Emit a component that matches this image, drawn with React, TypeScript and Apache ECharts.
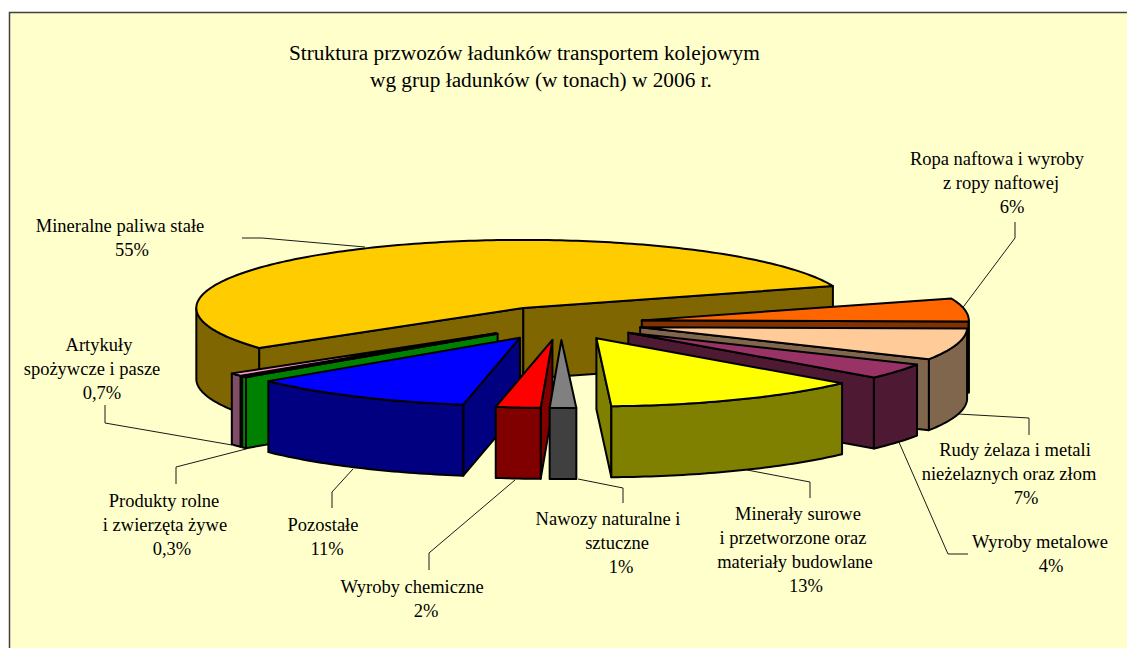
import React, { useEffect, useRef } from "react";
import * as echarts from "echarts";

const categories = [
  "Mineralne paliwa stałe",
  "Ropa naftowa i wyroby\nz ropy naftowej",
  "Rudy żelaza i metali\nnieżelaznych oraz złom",
  "Wyroby metalowe",
  "Minerały surowe\ni przetworzone oraz\nmateriały budowlane",
  "Nawozy naturalne i\nsztuczne",
  "Wyroby chemiczne",
  "Pozostałe",
  "Produkty rolne\ni zwierzęta żywe",
  "Artykuły\nspożywcze i pasze",
];
// Shares; labels show the rounded figures.
const shares = [54.81, 5.5, 7.49, 3.7, 12.8, 1.3, 2.2, 11.2, 0.3, 0.7];
const percentLabels = ["55%", "6%", "7%", "4%", "13%", "1%", "2%", "11%", "0,3%", "0,7%"];
const topColors = ["#FFCC00", "#FF6600", "#FFCC99", "#993366", "#FFFF00", "#808080", "#FF0000", "#0000FF", "#00FF00", "#FF99CC"];
const sideColors = ["#806600", "#803300", "#80664D", "#4D1933", "#808000", "#404040", "#800000", "#000080", "#008000", "#804D66"];
const drawOrder = [0, 1, 2, 3, 9, 8, 7, 4, 6, 5];
const titleLines = ["Struktura przwozów ładunków transportem kolejowym", "wg grup ładunków (w tonach) w 2006 r."];

// label layout: centre x of every text line, and centre y of the first line
const labelCentres: number[][] = [
  [120, 132], [997, 1001, 1012], [1015, 1009, 1026], [1040, 1051], [798, 793, 795, 806],
  [608, 617, 621], [412, 426], [323, 327], [164, 165, 172], [99, 92, 102],
];
const labelFirstY = [226, 159, 450, 542, 514, 519, 587, 525, 501, 345];
const LINE_STEP = 24;
const leaderLines: [number, number][][] = [
  [[242, 238], [262, 238], [365, 247]],
  [[1015, 222], [1015, 238], [961, 310]],
  [[958, 414], [1029, 418], [1029, 435]],
  [[898, 440], [948, 554], [968, 554]],
  [[747, 470], [810, 482], [810, 498]],
  [[578, 479], [623, 488], [623, 503]],
  [[515, 480], [429, 553], [429, 570]],
  [[353, 469], [332, 492], [332, 508]],
  [[246, 449], [176, 467], [176, 484]],
  [[105, 405], [105, 423], [232, 445]],
];

// pie projection
const PIE = { cx: 561, cy: 323, a: 327, b: 68, depth: 71, explode: 0.25, start: 216.1 };
const FONT = "'Liberation Serif', 'Times New Roman', serif";

const total = shares.reduce((s, v) => s + v, 0);
const angleSpans = shares.reduce<[number, number][]>((acc, v) => {
  const hi = acc.length ? acc[acc.length - 1][1] : PIE.start;
  acc.push([hi, hi - (v / total) * 360]);
  return acc;
}, []);

const rad = (d: number) => (d * Math.PI) / 180;
const rim = (c: number[], deg: number, dz = 0): number[] => [
  c[0] + PIE.a * Math.cos(rad(deg)),
  c[1] - PIE.b * Math.sin(rad(deg)) + dz,
];

function sliceShapes(i: number) {
  const [hi, lo] = angleSpans[i];
  const mid = (hi + lo) / 2;
  const tip = [
    PIE.cx + PIE.explode * PIE.a * Math.cos(rad(mid)),
    PIE.cy - PIE.explode * PIE.b * Math.sin(rad(mid)),
  ];
  const style = (fill: string) => ({ fill, stroke: "#000", lineWidth: 2, lineJoin: "round" });
  const poly = (points: number[][], fill: string) => ({ type: "polygon", shape: { points }, style: style(fill) });
  const below = (p: number[]) => [p[0], p[1] + PIE.depth];
  const children: any[] = [];
  const face = (deg: number) => {
    const e = rim(tip, deg);
    return poly([tip, e, below(e), below(tip)], sideColors[i]);
  };
  if (Math.cos(rad(hi)) < 0) children.push(face(hi));
  if (Math.cos(rad(lo)) > 0) children.push(face(lo));
  // outer wall: only the part of the rim that faces the viewer
  for (const shift of [-360, 0, 360]) {
    const from = Math.max(lo, -180 + shift);
    const to = Math.min(hi, shift);
    if (to > from) {
      const top: number[][] = [];
      const n = Math.max(2, Math.ceil(to - from));
      for (let k = 0; k <= n; k++) top.push(rim(tip, from + ((to - from) * k) / n));
      children.push(poly([...top, ...top.slice().reverse().map(below)], sideColors[i]));
    }
  }
  const arc: number[][] = [];
  const n = Math.max(2, Math.ceil(hi - lo));
  for (let k = 0; k <= n; k++) arc.push(rim(tip, hi - ((hi - lo) * k) / n));
  children.push(poly([tip, ...arc], topColors[i]));
  return children;
}

function labelElements() {
  const out: any[] = [];
  categories.forEach((c, i) => {
    [...c.split("\n"), percentLabels[i]].forEach((line, k) => {
      out.push({
        type: "text", z: 5, x: labelCentres[i][k], y: labelFirstY[i] + k * LINE_STEP,
        style: { text: line, align: "center", verticalAlign: "middle", fontFamily: FONT, fontSize: 18.5, fill: "#000" },
      });
    });
  });
  return out;
}

export default function App() {
  const ref = useRef<HTMLDivElement>(null);
  useEffect(() => {
    const chart = echarts.init(ref.current!, undefined, { renderer: "svg" });
    const titleStyle = { fontFamily: FONT, fontSize: 21.3, fontWeight: "normal", color: "#000" };
    chart.setOption({
      animation: false,
      backgroundColor: "#FFFFFF",
      title: [
        { text: titleLines[0], left: 289, top: 42, padding: 0, textStyle: titleStyle },
        { text: titleLines[1], left: 370, top: 69, padding: 0, textStyle: titleStyle },
      ],
      graphic: [
        { type: "rect", z: 0, shape: { x: 9.5, y: 12.5, width: 1300, height: 800 }, style: { fill: "#FFFFCC", stroke: "#404040", lineWidth: 1.5 } },
        ...leaderLines.map((points) => ({
          type: "polyline", z: 1, shape: { points }, style: { fill: "none", stroke: "#1a1a1a", lineWidth: 1 },
        })),
        ...labelElements(),
      ],
      series: [
        {
          type: "custom",
          coordinateSystem: "none",
          z: 2,
          silent: true,
          data: drawOrder.map((i) => [i, shares[i]]),
          renderItem: (_: any, api: any) => ({ type: "group", children: sliceShapes(api.value(0)) }),
        },
      ],
    });
    return () => chart.dispose();
  }, []);
  return <div ref={ref} style={{ position: "fixed", left: 0, top: 0, width: 1127, height: 648 }} />;
}
